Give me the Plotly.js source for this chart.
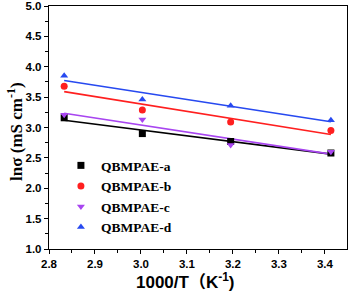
<!DOCTYPE html>
<html>
<head>
<meta charset="utf-8">
<script src="https://cdn.plot.ly/plotly-3.0.1.min.js"></script>
<style>html,body{margin:0;padding:0;background:#fff}#chart{width:350px;height:295px}</style>
</head>
<body>
<div id="chart"></div>
<script>
const invT = [2.833, 3.003, 3.195, 3.413];
const seriesNames = ['QBMPAE-a', 'QBMPAE-b', 'QBMPAE-c', 'QBMPAE-d'];
const lnSigmaA = [3.16, 2.90, 2.77, 2.58];
const lnSigmaB = [3.68, 3.29, 3.09, 2.95];
const lnSigmaC = [3.21, 3.13, 2.71, 2.60];
const lnSigmaD = [3.85, 3.46, 3.36, 3.12];
const xTicks = [2.8, 2.9, 3.0, 3.1, 3.2, 3.3, 3.4];
const yTicks = [1.0, 1.5, 2.0, 2.5, 3.0, 3.5, 4.0, 4.5, 5.0];

const colors = ['#000000', '#ff1f1f', '#a845f0', '#2749f0'];
const symbols = ['square', 'circle', 'triangle-down', 'triangle-up'];
const allY = [lnSigmaA, lnSigmaB, lnSigmaC, lnSigmaD];

function fit(xs, ys) {
  const n = xs.length;
  const mx = xs.reduce((a, b) => a + b, 0) / n;
  const my = ys.reduce((a, b) => a + b, 0) / n;
  let sxy = 0, sxx = 0;
  for (let i = 0; i < n; i++) { sxy += (xs[i] - mx) * (ys[i] - my); sxx += (xs[i] - mx) ** 2; }
  const k = sxy / sxx;
  return xs.map(x => my + k * (x - mx));
}

const traces = [];
allY.forEach((ys, i) => {
  traces.push({
    x: invT, y: fit(invT, ys), mode: 'lines', showlegend: false,
    line: {color: colors[i], width: 1.6}, hoverinfo: 'skip'
  });
});
allY.forEach((ys, i) => {
  traces.push({
    x: invT, y: ys, mode: 'markers', name: seriesNames[i],
    marker: {color: colors[i], symbol: symbols[i], size: 7}
  });
});

const axisCommon = {
  showgrid: false, zeroline: false, showline: true, linecolor: '#000', linewidth: 1.2,
  mirror: true, ticks: 'outside', ticklen: 4, tickwidth: 1, tickcolor: '#000',
  ticklabeloverflow: 'allow',
  tickfont: {family: 'Liberation Sans, Arial', size: 11.5, color: '#000', weight: 'bold'},
  minor: {ticks: 'outside', ticklen: 2.5, tickwidth: 1, tickcolor: '#000'}
};

const layout = {
  width: 350, height: 295,
  margin: {l: 49, r: 3, t: 6, b: 46},
  paper_bgcolor: '#fff', plot_bgcolor: '#fff',
  xaxis: Object.assign({}, axisCommon, {
    range: [2.8, 3.448], tickmode: 'array', tickvals: xTicks,
    ticktext: xTicks.map(v => v.toFixed(1)),
    minor: Object.assign({}, axisCommon.minor, {dtick: 0.05, tick0: 2.8})
  }),
  yaxis: Object.assign({}, axisCommon, {
    range: [1, 5], tickmode: 'array', tickvals: yTicks,
    ticktext: yTicks.map(v => v.toFixed(1)),
    minor: Object.assign({}, axisCommon.minor, {dtick: 0.25, tick0: 1})
  }),
  showlegend: true,
  legend: {
    x: 0.04, y: 0.407, xanchor: 'left', yanchor: 'top',
    bgcolor: 'rgba(0,0,0,0)', borderwidth: 0, itemwidth: 30,
    tracegroupgap: 0,
    font: {family: 'Liberation Serif, Times New Roman', size: 13.5, color: '#000', weight: 'bold'}
  },
  annotations: [
    {
      xref: 'paper', yref: 'paper', x: 0.455, y: -0.13, xanchor: 'center', yanchor: 'middle',
      showarrow: false, text: '1000/T（K<sup>-1</sup>)',
      font: {family: 'Liberation Sans, Noto Sans CJK SC, Arial', size: 17, color: '#000', weight: 'bold'}
    },
    {
      xref: 'paper', yref: 'paper', x: -0.114, y: 0.482, xanchor: 'center', yanchor: 'middle',
      showarrow: false, textangle: -90,
      text: 'lnσ (mS cm<sup>-1</sup>)',
      font: {family: 'Liberation Serif, Times New Roman', size: 17, color: '#000', weight: 'bold'}
    }
  ]
};

Plotly.newPlot('chart', traces, layout, {displayModeBar: false, staticPlot: true});
</script>
</body>
</html>
